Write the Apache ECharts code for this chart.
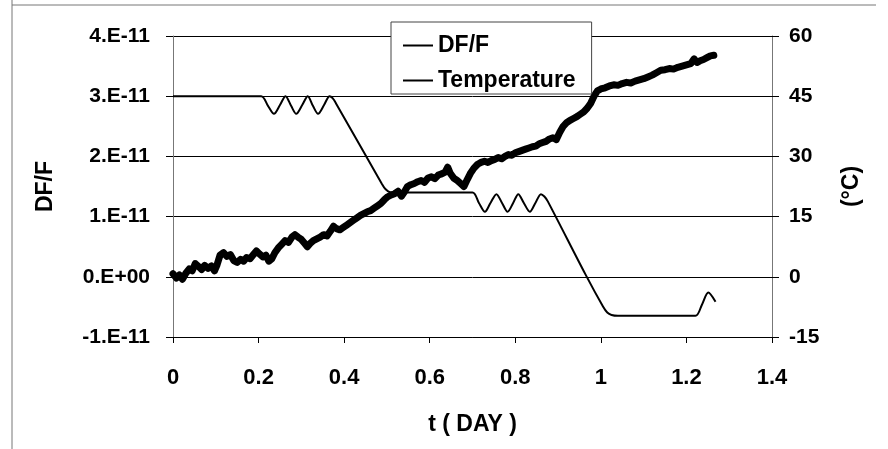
<!DOCTYPE html>
<html>
<head>
<meta charset="utf-8">
<script src="https://cdn.jsdelivr.net/npm/echarts@6/dist/echarts.min.js"></script>
<style>
html,body{margin:0;padding:0;background:#fff;}
#chart{width:888px;height:449px;}
</style>
</head>
<body>
<div id="chart"></div>
<script>
// ---- data ----
// DF/F in units of 1e-11, time in days
const dffTime = [0.000,0.008,0.015,0.022,0.030,0.038,0.045,0.052,0.060,0.067,0.074,0.082,0.090,0.097,0.103,0.110,0.118,0.126,0.134,0.142,0.150,0.158,0.165,0.172,0.180,0.188,0.195,0.202,0.210,0.217,0.224,0.231,0.238,0.246,0.254,0.262,0.270,0.278,0.285,0.292,0.300,0.307,0.314,0.320,0.328,0.336,0.344,0.352,0.360,0.368,0.375,0.382,0.390,0.398,0.406,0.414,0.422,0.430,0.438,0.446,0.454,0.462,0.470,0.478,0.486,0.494,0.502,0.510,0.518,0.526,0.534,0.540,0.548,0.556,0.564,0.572,0.580,0.588,0.596,0.604,0.612,0.620,0.628,0.636,0.642,0.648,0.656,0.664,0.672,0.680,0.688,0.696,0.704,0.712,0.720,0.728,0.736,0.744,0.752,0.760,0.768,0.776,0.784,0.792,0.800,0.808,0.816,0.824,0.832,0.840,0.848,0.856,0.864,0.872,0.880,0.888,0.896,0.904,0.912,0.920,0.928,0.936,0.944,0.952,0.960,0.968,0.976,0.984,0.992,1.000,1.010,1.020,1.030,1.040,1.050,1.060,1.070,1.080,1.090,1.100,1.110,1.120,1.130,1.140,1.150,1.160,1.170,1.180,1.190,1.200,1.210,1.218,1.225,1.232,1.240,1.248,1.256,1.264];
const dffValue = [0.05,-0.02,0.03,-0.04,0.06,0.13,0.10,0.22,0.17,0.12,0.19,0.14,0.18,0.10,0.20,0.36,0.40,0.34,0.37,0.27,0.24,0.29,0.26,0.32,0.30,0.37,0.43,0.38,0.33,0.36,0.26,0.30,0.40,0.48,0.54,0.60,0.57,0.66,0.70,0.66,0.62,0.56,0.50,0.55,0.60,0.63,0.66,0.70,0.68,0.76,0.84,0.80,0.78,0.82,0.86,0.90,0.94,0.98,1.02,1.05,1.08,1.10,1.14,1.18,1.22,1.28,1.33,1.36,1.38,1.42,1.34,1.40,1.50,1.53,1.55,1.58,1.60,1.57,1.64,1.66,1.63,1.69,1.71,1.74,1.82,1.72,1.64,1.60,1.55,1.50,1.62,1.73,1.81,1.87,1.90,1.92,1.90,1.93,1.95,1.98,1.96,2.00,2.03,2.02,2.06,2.08,2.10,2.12,2.14,2.16,2.17,2.21,2.23,2.25,2.29,2.31,2.28,2.40,2.50,2.56,2.60,2.63,2.66,2.70,2.74,2.80,2.88,3.00,3.09,3.12,3.14,3.17,3.19,3.18,3.21,3.23,3.22,3.25,3.27,3.29,3.32,3.35,3.39,3.43,3.44,3.46,3.45,3.48,3.50,3.52,3.54,3.62,3.56,3.59,3.61,3.64,3.67,3.68];

// Temperature in degrees C
const tempTime = [0,0.206,0.222,0.236,0.250,0.263,0.276,0.288,0.302,0.315,0.327,0.339,0.353,0.366,0.373,0.381,0.488,0.497,0.507,0.520,0.700,0.715,0.729,0.742,0.756,0.769,0.782,0.795,0.807,0.820,0.834,0.847,0.860,0.868,0.876,0.964,1.005,1.015,1.025,1.040,1.221,1.236,1.251,1.268];
const tempValue = [45,45,42.6,40.6,42.8,45,42.6,40.6,42.8,45,42.6,40.6,42.8,45,44.5,43.2,23.2,21.8,21.1,21,21,18.4,16.2,18.4,20.6,18.4,16.2,18.4,20.6,18.4,16.2,18.4,20.6,20.0,18.8,0.6,-7.4,-8.9,-9.5,-9.7,-9.7,-7.0,-3.9,-6.2];

const seriesNames = ['DF/F', 'Temperature'];
const dffTickLabels = {'-1':'-1.E-11','0':'0.E+00','1':'1.E-11','2':'2.E-11','3':'3.E-11','4':'4.E-11'};
const xAxisTitle = 't ( DAY )';
const leftAxisTitle = 'DF/F';
const rightAxisTitle = '(°C)';

// ---- chart ----
const FONT = '"Liberation Sans", Arial, sans-serif';
const chart = echarts.init(document.getElementById('chart'), null, {renderer: 'canvas'});
const lbl = (size) => ({color: '#000', fontSize: size, fontWeight: 'bold', fontFamily: FONT});

const option = {
  backgroundColor: '#fff',
  animation: false,
  grid: {left: 173, right: 116, top: 36, bottom: 112, containLabel: false, outerBoundsMode: 'none'},
  legend: {
    data: seriesNames,
    orient: 'vertical',
    left: 391, top: 22,
    padding: [12, 16, 2, 12],
    itemGap: 12,
    itemWidth: 30, itemHeight: 2,
    icon: 'rect',
    backgroundColor: '#fff',
    borderColor: '#444', borderWidth: 1,
    textStyle: lbl(23),
    itemStyle: {color: '#000'}
  },
  xAxis: {
    type: 'value', min: 0, max: 1.4, interval: 0.2,
    name: xAxisTitle, nameLocation: 'middle', nameGap: 76,
    nameTextStyle: lbl(23),
    axisLine: {show: true, onZero: false, lineStyle: {color: '#000', width: 1}},
    axisTick: {show: true, inside: false, length: 6, lineStyle: {color: '#000'}},
    axisLabel: Object.assign(lbl(22), {margin: 30, formatter: v => String(+v.toFixed(1))}),
    splitLine: {show: false}
  },
  yAxis: [
    {
      type: 'value', min: -1, max: 4, interval: 1, position: 'left',
      name: leftAxisTitle, nameLocation: 'middle', nameGap: 116, nameRotate: 90,
      nameTextStyle: lbl(23),
      axisLine: {show: true, onZero: false, lineStyle: {color: '#777', width: 1}},
      axisTick: {show: true, length: 7, lineStyle: {color: '#000'}},
      axisLabel: Object.assign(lbl(21), {margin: 23, padding: [8, 0, 0, 0], formatter: v => dffTickLabels[String(Math.round(v))]}),
      splitLine: {show: true, lineStyle: {color: '#000', width: 1}}
    },
    {
      type: 'value', min: -15, max: 60, interval: 15, position: 'right',
      name: rightAxisTitle, nameLocation: 'middle', nameGap: 68, nameRotate: 90,
      nameTextStyle: lbl(23),
      axisLine: {show: true, onZero: false, lineStyle: {color: '#777', width: 1}},
      axisTick: {show: true, length: 7, lineStyle: {color: '#000'}},
      axisLabel: Object.assign(lbl(21), {margin: 17, padding: [8, 0, 0, 0]}),
      splitLine: {show: false}
    }
  ],
  graphic: [
    {type: 'line', shape: {x1: 12, y1: 0, x2: 12, y2: 449}, style: {stroke: '#777', lineWidth: 1}, silent: true},
    {type: 'line', shape: {x1: 12, y1: 5, x2: 876, y2: 5}, style: {stroke: '#777', lineWidth: 1}, silent: true}
  ],
  series: [
    {
      name: seriesNames[0], type: 'line', yAxisIndex: 0,
      data: dffTime.map((t, i) => [t, dffValue[i]]),
      showSymbol: false, symbol: 'none',
      lineStyle: {color: '#000', width: 7, join: 'round', cap: 'round'},
      itemStyle: {color: '#000'},
      z: 3
    },
    {
      name: seriesNames[1], type: 'line', yAxisIndex: 1,
      data: tempTime.map((t, i) => [t, tempValue[i]]),
      showSymbol: false, symbol: 'none', smooth: 0.3,
      lineStyle: {color: '#000', width: 2},
      itemStyle: {color: '#000'},
      z: 4
    }
  ]
};
chart.setOption(option);
</script>
</body>
</html>
